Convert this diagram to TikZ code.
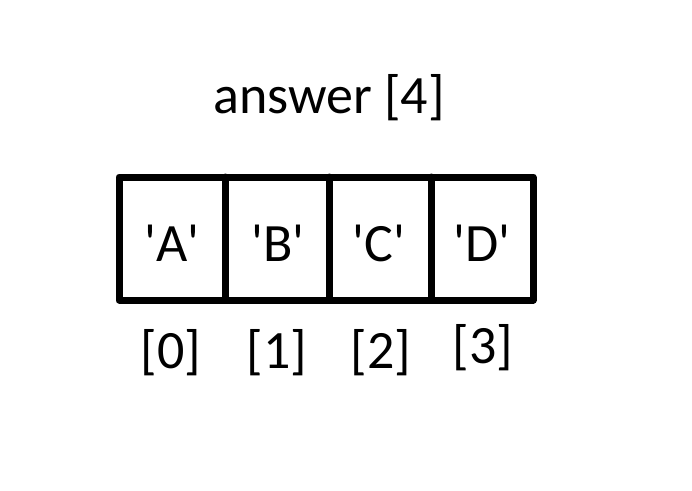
\documentclass[tikz,border=0pt]{standalone}
\usepackage{fontspec}
\setmainfont{Carlito}
\usepackage{tikz}
\usetikzlibrary{positioning}
\newcommand{\q}{\textquotesingle}

\begin{document}
\begin{tikzpicture}[x=1pt,y=-1pt,
	every node/.style={inner sep=0pt,anchor=base,font=\fontsize{54}{60}\selectfont},
	cellline/.style={line width=7pt,line cap=round,line join=round}]
		\useasboundingbox (0,0) rectangle (692,490);

		\node (title) at (329,113) {answer [4]};

		\draw[cellline] (119,177) rectangle (533,300); \draw[cellline] (225,177) -- (225,300); \draw[cellline] (329,177) -- (329,300); \draw[cellline] (431,177) -- (431,300);

		\node (cA) at (172,261) {\q A\q}; \node (cB) at (278,261) {\q B\q}; \node (cC) at (379,261) {\q C\q}; \node (cD) at (482,261) {\q D\q};

		\node (i0) at (171,368) {[0]}; \node (i1) at (277,368) {[1]}; \node (i2) at (381,368) {[2]}; \node (i3) at (483,363) {[3]};
	\end{tikzpicture}
\end{document}
